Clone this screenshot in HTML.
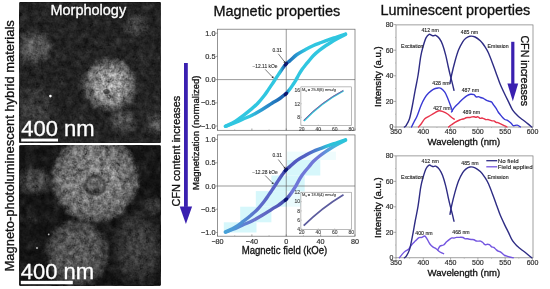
<!DOCTYPE html>
<html><head><meta charset="utf-8"><style>
html,body{margin:0;padding:0;background:#fff;}
body{width:550px;height:289px;position:relative;overflow:hidden;font-family:'Liberation Sans',sans-serif;}
svg{will-change:transform;}
</style></head><body>
<svg width="550" height="289" viewBox="0 0 550 289" style="position:absolute;left:0;top:0;font-family:'Liberation Sans',sans-serif">
<defs>
 <clipPath id="clipTop"><rect x="19.5" y="2.3" width="141" height="140.5"/></clipPath>
 <clipPath id="clipBot"><rect x="19.5" y="145.5" width="141" height="140"/></clipPath>
 <filter id="speck" x="0" y="0" width="100%" height="100%" color-interpolation-filters="sRGB">
  <feTurbulence type="fractalNoise" baseFrequency="0.6" numOctaves="1" seed="7" result="t1"/>
  <feTurbulence type="fractalNoise" baseFrequency="0.18" numOctaves="2" seed="3" result="t2"/>
  <feComposite in="t1" in2="t2" operator="arithmetic" k1="0" k2="0.45" k3="0.75" k4="-0.1" result="t"/>
  <feGaussianBlur in="t" stdDeviation="0.5" result="tb"/>
  <feColorMatrix in="tb" type="matrix" values="1 0 0 0 0  1 0 0 0 0  1 0 0 0 0  0 0 0 0 1" result="n"/>
  <feComposite in="SourceGraphic" in2="n" operator="arithmetic" k1="1.4" k2="0.3" k3="0" k4="0"/>
 </filter>
 <filter id="soft" x="-30%" y="-30%" width="160%" height="160%"><feGaussianBlur stdDeviation="1.2"/></filter>
 <filter id="fuzz" x="-10%" y="-10%" width="120%" height="120%">
  <feTurbulence type="fractalNoise" baseFrequency="0.12" numOctaves="2" seed="4" result="d"/>
  <feDisplacementMap in="SourceGraphic" in2="d" scale="6" xChannelSelector="R" yChannelSelector="G"/>
 </filter>
 <filter id="mottle" x="0" y="0" width="100%" height="100%" color-interpolation-filters="sRGB">
  <feTurbulence type="fractalNoise" baseFrequency="0.08" numOctaves="2" seed="11"/>
  <feColorMatrix type="matrix" values="0 0 0 0 0.35  0 0 0 0 0.35  0 0 0 0 0.35  1.6 0 0 0 -0.7"/>
 </filter>
 <radialGradient id="bgTop" cx="0.45" cy="0.5" r="0.7"><stop offset="0" stop-color="#3a3a3a" stop-opacity="0.6"/><stop offset="1" stop-color="#222" stop-opacity="0.6"/></radialGradient>
 <radialGradient id="bgBot" cx="0.8" cy="0.75" r="0.6"><stop offset="0" stop-color="#3c3c3c" stop-opacity="0.8"/><stop offset="1" stop-color="#1e1e1e" stop-opacity="0.3"/></radialGradient>
 <radialGradient id="gBlobA"><stop offset="0" stop-color="#767676"/><stop offset="0.5" stop-color="#606060" stop-opacity="0.92"/><stop offset="0.8" stop-color="#484848" stop-opacity="0.5"/><stop offset="1" stop-color="#333" stop-opacity="0"/></radialGradient>
 <radialGradient id="gBlobB"><stop offset="0" stop-color="#545454"/><stop offset="0.6" stop-color="#444" stop-opacity="0.7"/><stop offset="1" stop-color="#333" stop-opacity="0"/></radialGradient>
 <radialGradient id="gBlobC"><stop offset="0" stop-color="#505050"/><stop offset="0.6" stop-color="#444" stop-opacity="0.75"/><stop offset="1" stop-color="#333" stop-opacity="0"/></radialGradient>
 <radialGradient id="gBig1" cx="0.5" cy="0.52" r="0.5"><stop offset="0" stop-color="#bcbcbc"/><stop offset="0.3" stop-color="#ababab"/><stop offset="0.6" stop-color="#919191"/><stop offset="0.82" stop-color="#666" stop-opacity="0.85"/><stop offset="1" stop-color="#333" stop-opacity="0"/></radialGradient>
 <radialGradient id="gSph1" cx="0.5" cy="0.5" r="0.5"><stop offset="0" stop-color="#929292"/><stop offset="0.5" stop-color="#8a8a8a"/><stop offset="0.75" stop-color="#7a7a7a"/><stop offset="0.9" stop-color="#5a5a5a"/><stop offset="1" stop-color="#2a2a2a" stop-opacity="0"/></radialGradient>
 <radialGradient id="gSph2" cx="0.5" cy="0.5" r="0.5"><stop offset="0" stop-color="#666"/><stop offset="0.65" stop-color="#5e5e5e"/><stop offset="0.85" stop-color="#4a4a4a" stop-opacity="0.8"/><stop offset="1" stop-color="#303030" stop-opacity="0"/></radialGradient>
 <linearGradient id="gUpTop" gradientUnits="userSpaceOnUse" x1="225" y1="0" x2="346" y2="0">
  <stop offset="0" stop-color="#30c6e0"/><stop offset="0.455" stop-color="#30c6e0"/><stop offset="0.49" stop-color="#1c5eae"/><stop offset="0.53" stop-color="#1e72ba"/><stop offset="0.6" stop-color="#2a9cd2"/><stop offset="0.67" stop-color="#30c6e0"/><stop offset="1" stop-color="#30c6e0"/>
 </linearGradient>
 <linearGradient id="gLoTop" gradientUnits="userSpaceOnUse" x1="225" y1="0" x2="346" y2="0">
  <stop offset="0" stop-color="#30c6e0"/><stop offset="0.2" stop-color="#30c6e0"/><stop offset="0.33" stop-color="#2c90cc"/><stop offset="0.45" stop-color="#1f6cb6"/><stop offset="0.5" stop-color="#1c5eae"/><stop offset="0.535" stop-color="#30c6e0"/><stop offset="1" stop-color="#30c6e0"/>
 </linearGradient>
 <linearGradient id="gUpBot" gradientUnits="userSpaceOnUse" x1="225" y1="0" x2="346" y2="0">
  <stop offset="0" stop-color="#48a2d8"/><stop offset="0.15" stop-color="#5290d4"/><stop offset="0.27" stop-color="#5e6cca"/><stop offset="0.45" stop-color="#5860c4"/><stop offset="0.5" stop-color="#3a42a4"/><stop offset="0.55" stop-color="#5058c0"/><stop offset="0.68" stop-color="#5462c4"/><stop offset="0.76" stop-color="#4a80ce"/><stop offset="0.85" stop-color="#2cc0d8"/><stop offset="1" stop-color="#2cc4da"/>
 </linearGradient>
 <linearGradient id="gLoBot" gradientUnits="userSpaceOnUse" x1="225" y1="0" x2="346" y2="0">
  <stop offset="0" stop-color="#48a2d8"/><stop offset="0.13" stop-color="#5a86d4"/><stop offset="0.25" stop-color="#6a72cc"/><stop offset="0.45" stop-color="#5058b8"/><stop offset="0.5" stop-color="#3a42a4"/><stop offset="0.55" stop-color="#7078d8"/><stop offset="0.78" stop-color="#7078d8"/><stop offset="0.9" stop-color="#48b4dc"/><stop offset="1" stop-color="#30c4da"/>
 </linearGradient>
</defs>
<rect width="550" height="289" fill="#fff"/>

<g clip-path="url(#clipTop)">
 <g filter="url(#speck)">
 <rect x="19.5" y="2.3" width="141" height="140.5" fill="#262626"/>
 <rect x="19.5" y="2.3" width="141" height="140.5" filter="url(#mottle)" opacity="0.45"/>
 <g filter="url(#fuzz)">
 <ellipse cx="34" cy="112" rx="26" ry="34" fill="url(#gBlobB)" opacity="0.85"/>
 <circle cx="35" cy="48" r="21" fill="url(#gBlobA)"/>
 <circle cx="136" cy="25" r="15" fill="url(#gBlobA)" opacity="0.6"/>
 <circle cx="123" cy="121" r="16" fill="url(#gBlobA)" opacity="0.8"/>
 <circle cx="156" cy="123" r="14" fill="url(#gBlobA)" opacity="0.8"/>
 <ellipse cx="110" cy="83.5" rx="31" ry="30" fill="url(#gBig1)"/>
 </g>
 <ellipse cx="106.5" cy="91.5" rx="3.2" ry="2.6" fill="#3a3a3a" opacity="0.75"/>
 <circle cx="110" cy="87.3" r="1.6" fill="#d0d0d0"/>
 </g>
 <circle cx="50.4" cy="96.1" r="1.3" fill="#fff"/>
</g>
<g clip-path="url(#clipBot)">
 <g filter="url(#speck)">
 <rect x="19.5" y="145.5" width="141" height="140" fill="#161616"/>
 <rect x="19.5" y="145.5" width="141" height="140" filter="url(#mottle)" opacity="0.5"/>
 <g filter="url(#fuzz)">
 <ellipse cx="35" cy="181" rx="22" ry="17" fill="url(#gBlobA)" opacity="0.75"/>
 <ellipse cx="138" cy="248" rx="30" ry="44" fill="url(#gBlobC)"/>
 <circle cx="153" cy="205" r="12" fill="url(#gBlobC)" opacity="0.8"/>
 <ellipse cx="77.5" cy="253" rx="34" ry="37" fill="url(#gSph2)"/>
 <circle cx="95" cy="178.5" r="46.5" fill="url(#gSph1)"/>
 </g>
 <ellipse cx="108" cy="180" rx="10" ry="14" fill="#a8a8a8" opacity="0.3" filter="url(#soft)"/>
 <ellipse cx="95" cy="185.5" rx="9.5" ry="9" fill="none" stroke="#2a2a2a" stroke-width="3.4" opacity="0.7" filter="url(#soft)"/>
 <ellipse cx="95" cy="186" rx="7" ry="6.5" fill="#505050" opacity="0.55" filter="url(#soft)"/>
 <ellipse cx="96" cy="191" rx="3.5" ry="2.2" fill="#333" opacity="0.45"/>
 <path d="M75,175 Q80,169 89,168.5" fill="none" stroke="#3a3a3a" stroke-width="2.2" opacity="0.45"/>
 </g>
 <circle cx="48.7" cy="234.4" r="0.9" fill="#bbb"/>
 <circle cx="37" cy="248" r="0.9" fill="#ccc"/>
</g>
<text x="88.3" y="15.4" font-size="14.5" text-anchor="middle" fill="#fff" stroke="#fff" stroke-width="0.32">Morphology</text>
<text x="21.2" y="135.6" font-size="22" fill="#fff" stroke="#fff" stroke-width="0.32">400 nm</text>
<rect x="21.2" y="138.6" width="36.8" height="2.9" fill="#fff"/>
<text x="20.8" y="278.6" font-size="22" fill="#fff" stroke="#fff" stroke-width="0.32">400 nm</text>
<rect x="20.8" y="280.8" width="52" height="3.4" fill="#fff"/>
<text transform="translate(13.6,271.5) rotate(-90)" font-size="12" fill="#111" textLength="251.3" lengthAdjust="spacingAndGlyphs" stroke="#111" stroke-width="0.32">Magneto-photoluminescent hybrid materials</text>

<text x="213.5" y="15.6" font-size="14.45" fill="#111" stroke="#111" stroke-width="0.32">Magnetic properties</text>
<text x="380.5" y="15.3" font-size="14.4" fill="#111" stroke="#111" stroke-width="0.32">Luminescent properties</text>
<rect x="184" y="63" width="3.8" height="143.9" fill="#3a20b0"/><polygon points="179.7,206.4 192.1,206.4 185.9,224" fill="#3a20b0"/><text transform="translate(180,206.5) rotate(-90)" font-size="10.9" fill="#111" stroke="#111" stroke-width="0.32">CFN content increases</text><text transform="translate(199,190) rotate(-90)" font-size="9.8" fill="#111" textLength="114.5" lengthAdjust="spacingAndGlyphs" stroke="#111" stroke-width="0.32">Magnetization (normalized)</text><rect x="223.8" y="222.3" width="32.7" height="10.2" fill="#d6f7fb"/><rect x="240.2" y="206.7" width="31.2" height="15.6" fill="#d6f7fb"/><rect x="255.8" y="191.1" width="31.2" height="15.6" fill="#d6f7fb"/><rect x="287" y="191.1" width="17.7" height="15.6" fill="#ebfbfd"/><rect x="271.4" y="175.5" width="33.3" height="15.6" fill="#d6f7fb"/><rect x="287" y="159.9" width="33.3" height="15.6" fill="#d6f7fb"/><rect x="287" y="151.6" width="48.9" height="8.3" fill="#effcfd"/><rect x="217.5" y="29.2" width="137.5" height="101.10000000000001" fill="none" stroke="#666" stroke-width="0.7"/>
<line x1="217.5" y1="79.6" x2="355.0" y2="79.6" stroke="#555" stroke-width="0.6"/>
<line x1="286.25" y1="29.2" x2="286.25" y2="130.3" stroke="#555" stroke-width="0.6"/>
<line x1="216.0" y1="33.2" x2="217.5" y2="33.2" stroke="#666" stroke-width="0.6"/>
<text x="215.5" y="35.8" font-size="7.4" text-anchor="end" fill="#333" stroke="#333" stroke-width="0.2">1.0</text>
<line x1="216.0" y1="56.4" x2="217.5" y2="56.4" stroke="#666" stroke-width="0.6"/>
<text x="215.5" y="59" font-size="7.4" text-anchor="end" fill="#333" stroke="#333" stroke-width="0.2">0.5</text>
<line x1="216.0" y1="79.6" x2="217.5" y2="79.6" stroke="#666" stroke-width="0.6"/>
<text x="215.5" y="82.2" font-size="7.4" text-anchor="end" fill="#333" stroke="#333" stroke-width="0.2">0.0</text>
<line x1="216.0" y1="102.8" x2="217.5" y2="102.8" stroke="#666" stroke-width="0.6"/>
<text x="215.5" y="105.4" font-size="7.4" text-anchor="end" fill="#333" stroke="#333" stroke-width="0.2">−0.5</text>
<line x1="216.0" y1="126" x2="217.5" y2="126" stroke="#666" stroke-width="0.6"/>
<text x="215.5" y="128.6" font-size="7.4" text-anchor="end" fill="#333" stroke="#333" stroke-width="0.2">−1.0</text>
<line x1="234.71" y1="130.3" x2="234.71" y2="129.3" stroke="#888" stroke-width="0.5"/>
<line x1="269.07" y1="130.3" x2="269.07" y2="129.3" stroke="#888" stroke-width="0.5"/>
<line x1="303.43" y1="130.3" x2="303.43" y2="129.3" stroke="#888" stroke-width="0.5"/>
<line x1="337.79" y1="130.3" x2="337.79" y2="129.3" stroke="#888" stroke-width="0.5"/>
<line x1="217.53" y1="130.3" x2="217.53" y2="128.5" stroke="#666" stroke-width="0.6"/>
<line x1="251.89" y1="130.3" x2="251.89" y2="128.5" stroke="#666" stroke-width="0.6"/>
<line x1="286.25" y1="130.3" x2="286.25" y2="128.5" stroke="#666" stroke-width="0.6"/>
<line x1="320.61" y1="130.3" x2="320.61" y2="128.5" stroke="#666" stroke-width="0.6"/>
<line x1="354.97" y1="130.3" x2="354.97" y2="128.5" stroke="#666" stroke-width="0.6"/><rect x="217.5" y="134.9" width="137.5" height="101.29999999999998" fill="none" stroke="#666" stroke-width="0.7"/>
<line x1="217.5" y1="186" x2="355.0" y2="186" stroke="#555" stroke-width="0.6"/>
<line x1="286.25" y1="134.9" x2="286.25" y2="236.2" stroke="#555" stroke-width="0.6"/>
<line x1="216.0" y1="139.5" x2="217.5" y2="139.5" stroke="#666" stroke-width="0.6"/>
<text x="215.5" y="142.1" font-size="7.4" text-anchor="end" fill="#333" stroke="#333" stroke-width="0.2">1.0</text>
<line x1="216.0" y1="162.75" x2="217.5" y2="162.75" stroke="#666" stroke-width="0.6"/>
<text x="215.5" y="165.35" font-size="7.4" text-anchor="end" fill="#333" stroke="#333" stroke-width="0.2">0.5</text>
<line x1="216.0" y1="186" x2="217.5" y2="186" stroke="#666" stroke-width="0.6"/>
<text x="215.5" y="188.6" font-size="7.4" text-anchor="end" fill="#333" stroke="#333" stroke-width="0.2">0.0</text>
<line x1="216.0" y1="209.25" x2="217.5" y2="209.25" stroke="#666" stroke-width="0.6"/>
<text x="215.5" y="211.85" font-size="7.4" text-anchor="end" fill="#333" stroke="#333" stroke-width="0.2">−0.5</text>
<line x1="216.0" y1="232.5" x2="217.5" y2="232.5" stroke="#666" stroke-width="0.6"/>
<text x="215.5" y="235.1" font-size="7.4" text-anchor="end" fill="#333" stroke="#333" stroke-width="0.2">−1.0</text>
<line x1="234.71" y1="236.2" x2="234.71" y2="235.2" stroke="#888" stroke-width="0.5"/>
<line x1="269.07" y1="236.2" x2="269.07" y2="235.2" stroke="#888" stroke-width="0.5"/>
<line x1="303.43" y1="236.2" x2="303.43" y2="235.2" stroke="#888" stroke-width="0.5"/>
<line x1="337.79" y1="236.2" x2="337.79" y2="235.2" stroke="#888" stroke-width="0.5"/>
<line x1="217.53" y1="236.2" x2="217.53" y2="234.39999999999998" stroke="#666" stroke-width="0.6"/>
<line x1="251.89" y1="236.2" x2="251.89" y2="234.39999999999998" stroke="#666" stroke-width="0.6"/>
<line x1="286.25" y1="236.2" x2="286.25" y2="234.39999999999998" stroke="#666" stroke-width="0.6"/>
<line x1="320.61" y1="236.2" x2="320.61" y2="234.39999999999998" stroke="#666" stroke-width="0.6"/>
<line x1="354.97" y1="236.2" x2="354.97" y2="234.39999999999998" stroke="#666" stroke-width="0.6"/><path d="M225.5,126.3 C226.77,125.83 230.22,124.68 233.1,123.5 C235.98,122.32 239.57,120.62 242.8,119.2 C246.03,117.78 249.27,116.62 252.5,115 C255.73,113.38 258.95,111.45 262.2,109.5 C265.45,107.55 269.32,104.97 272,103.3 C274.68,101.63 276.55,100.65 278.3,99.5 C280.05,98.35 281.23,97.37 282.5,96.4 C283.77,95.43 284.75,94.8 285.9,93.7 C287.05,92.6 288.25,91.27 289.4,89.8 C290.55,88.33 291.77,86.43 292.8,84.9 C293.83,83.37 294.63,82.25 295.6,80.6 C296.57,78.95 297.53,76.85 298.6,75 C299.67,73.15 300.85,71.17 302,69.5 C303.15,67.83 304.38,66.38 305.5,65 C306.62,63.62 307.37,62.78 308.7,61.2 C310.03,59.62 311.68,57.33 313.5,55.5 C315.32,53.67 317.52,51.87 319.6,50.2 C321.68,48.53 323.93,46.92 326,45.5 C328.07,44.08 329.83,42.98 332,41.7 C334.17,40.42 336.75,39.02 339,37.8 C341.25,36.58 344.42,34.97 345.5,34.4" fill="none" stroke="url(#gLoTop)" stroke-width="3.4" stroke-linecap="round"/><path d="M225.5,126.3 C227.17,125.45 232.55,122.98 235.5,121.2 C238.45,119.42 240.62,117.57 243.2,115.6 C245.78,113.63 248.57,111.47 251,109.4 C253.43,107.33 255.58,105.52 257.8,103.2 C260.02,100.88 262.53,97.77 264.3,95.5 C266.07,93.23 267.15,91.42 268.4,89.6 C269.65,87.78 270.7,86.23 271.8,84.6 C272.9,82.97 273.9,81.47 275,79.8 C276.1,78.13 277.18,76.43 278.4,74.6 C279.62,72.77 281.05,70.53 282.3,68.8 C283.55,67.07 284.62,65.57 285.9,64.2 C287.18,62.83 288.15,62.22 290,60.6 C291.85,58.98 294.4,56.35 297,54.5 C299.6,52.65 302.93,50.97 305.6,49.5 C308.27,48.03 310.4,46.87 313,45.7 C315.6,44.53 318.53,43.52 321.2,42.5 C323.87,41.48 326.42,40.52 329,39.6 C331.58,38.68 333.95,37.93 336.7,37 C339.45,36.07 344.03,34.5 345.5,34" fill="none" stroke="url(#gUpTop)" stroke-width="3.4" stroke-linecap="round"/><ellipse cx="285.9" cy="64.2" rx="2.6" ry="1.75" fill="#0c1670" transform="rotate(-45 285.9 64.2)"/><ellipse cx="285.9" cy="93.9" rx="2.6" ry="1.75" fill="#0c1670" transform="rotate(-40 285.9 93.9)"/><path d="M225.5,232.1 C226.77,231.63 230.22,230.48 233.1,229.3 C235.98,228.12 239.57,226.42 242.8,225 C246.03,223.58 249.27,222.42 252.5,220.8 C255.73,219.18 258.95,217.25 262.2,215.3 C265.45,213.35 269.32,210.77 272,209.1 C274.68,207.43 276.55,206.45 278.3,205.3 C280.05,204.15 281.23,203.17 282.5,202.2 C283.77,201.23 284.75,200.6 285.9,199.5 C287.05,198.4 288.25,197.07 289.4,195.6 C290.55,194.13 291.77,192.23 292.8,190.7 C293.83,189.17 294.63,188.05 295.6,186.4 C296.57,184.75 297.53,182.65 298.6,180.8 C299.67,178.95 300.85,176.97 302,175.3 C303.15,173.63 304.38,172.18 305.5,170.8 C306.62,169.42 307.37,168.58 308.7,167 C310.03,165.42 311.68,163.13 313.5,161.3 C315.32,159.47 317.52,157.67 319.6,156 C321.68,154.33 323.93,152.72 326,151.3 C328.07,149.88 329.83,148.78 332,147.5 C334.17,146.22 336.75,144.82 339,143.6 C341.25,142.38 344.42,140.77 345.5,140.2" fill="none" stroke="url(#gLoBot)" stroke-width="3.4" stroke-linecap="round"/><path d="M225.5,232.1 C227.17,231.25 232.55,228.78 235.5,227 C238.45,225.22 240.62,223.37 243.2,221.4 C245.78,219.43 248.57,217.27 251,215.2 C253.43,213.13 255.58,211.32 257.8,209 C260.02,206.68 262.53,203.57 264.3,201.3 C266.07,199.03 267.15,197.22 268.4,195.4 C269.65,193.58 270.7,192.03 271.8,190.4 C272.9,188.77 273.9,187.27 275,185.6 C276.1,183.93 277.18,182.23 278.4,180.4 C279.62,178.57 281.05,176.33 282.3,174.6 C283.55,172.87 284.62,171.37 285.9,170 C287.18,168.63 288.15,168.02 290,166.4 C291.85,164.78 294.4,162.15 297,160.3 C299.6,158.45 302.93,156.77 305.6,155.3 C308.27,153.83 310.4,152.67 313,151.5 C315.6,150.33 318.53,149.32 321.2,148.3 C323.87,147.28 326.42,146.32 329,145.4 C331.58,144.48 333.95,143.73 336.7,142.8 C339.45,141.87 344.03,140.3 345.5,139.8" fill="none" stroke="url(#gUpBot)" stroke-width="3.4" stroke-linecap="round"/><ellipse cx="285.9" cy="170" rx="2.6" ry="1.75" fill="#0c1670" transform="rotate(-45 285.9 170)"/><ellipse cx="285.9" cy="199.7" rx="2.6" ry="1.75" fill="#0c1670" transform="rotate(-40 285.9 199.7)"/><text x="277.2" y="51.7" font-size="4.9" text-anchor="middle" fill="#333" stroke="#333" stroke-width="0.12">0.31</text><line x1="278.3" y1="53.8" x2="284.25" y2="61.46" stroke="#222" stroke-width="0.6"/><polygon points="283.38,62.14 285.12,60.79 285.6,63.2" fill="#222"/><text x="265" y="67.7" font-size="4.9" text-anchor="middle" fill="#333" stroke="#333" stroke-width="0.12">−12.11 kOe</text><line x1="265.2" y1="69.4" x2="272.28" y2="76.81" stroke="#222" stroke-width="0.6"/><polygon points="271.48,77.57 273.08,76.05 273.8,78.4" fill="#222"/><text x="277.2" y="157.3" font-size="4.9" text-anchor="middle" fill="#333" stroke="#333" stroke-width="0.12">0.31</text><line x1="278.3" y1="159.5" x2="284.26" y2="167.26" stroke="#222" stroke-width="0.6"/><polygon points="283.39,167.93 285.13,166.59 285.6,169" fill="#222"/><text x="265" y="174.1" font-size="4.9" text-anchor="middle" fill="#333" stroke="#333" stroke-width="0.12">−12.28 kOe</text><line x1="265.2" y1="175.5" x2="272.26" y2="182.73" stroke="#222" stroke-width="0.6"/><polygon points="271.48,183.5 273.05,181.96 273.8,184.3" fill="#222"/><rect x="300.9" y="86.9" width="50.700000000000045" height="38.8" fill="#fff" stroke="#777" stroke-width="0.5"/>
<text x="300.09999999999997" y="92" font-size="5" text-anchor="end" fill="#444" stroke="#444" stroke-width="0.12">16</text>
<line x1="300.9" y1="90.2" x2="301.9" y2="90.2" stroke="#888" stroke-width="0.4"/>
<text x="300.09999999999997" y="105.6" font-size="5" text-anchor="end" fill="#444" stroke="#444" stroke-width="0.12">12</text>
<line x1="300.9" y1="103.8" x2="301.9" y2="103.8" stroke="#888" stroke-width="0.4"/>
<text x="300.09999999999997" y="119.1" font-size="5" text-anchor="end" fill="#444" stroke="#444" stroke-width="0.12">8</text>
<line x1="300.9" y1="117.3" x2="301.9" y2="117.3" stroke="#888" stroke-width="0.4"/>
<text x="301.8" y="130.7" font-size="5" text-anchor="middle" fill="#444" stroke="#444" stroke-width="0.12">20</text>
<line x1="301.8" y1="125.7" x2="301.8" y2="124.7" stroke="#888" stroke-width="0.4"/>
<text x="318.3" y="130.7" font-size="5" text-anchor="middle" fill="#444" stroke="#444" stroke-width="0.12">40</text>
<line x1="318.3" y1="125.7" x2="318.3" y2="124.7" stroke="#888" stroke-width="0.4"/>
<text x="334.7" y="130.7" font-size="5" text-anchor="middle" fill="#444" stroke="#444" stroke-width="0.12">60</text>
<line x1="334.7" y1="125.7" x2="334.7" y2="124.7" stroke="#888" stroke-width="0.4"/>
<text x="351.2" y="130.7" font-size="5" text-anchor="middle" fill="#444" stroke="#444" stroke-width="0.12">80</text>
<line x1="351.2" y1="125.7" x2="351.2" y2="124.7" stroke="#888" stroke-width="0.4"/>
<text x="302.09999999999997" y="91.0" font-size="4.3" fill="#444" textLength="34" lengthAdjust="spacingAndGlyphs" stroke="#444" stroke-width="0.12">M<tspan font-size="2.6" dy="0.8">s</tspan><tspan dy="-0.8"> = 25.8(6) emu/g</tspan></text>
<path d="M303.9,120.9 Q321.5,102.5 343.5,90.8" fill="none" stroke="#30c8d8" stroke-width="1.7"/>
<path d="M303.6,120.3 Q321.1,102 343.3,90.4" fill="none" stroke="#8a4a98" stroke-width="1.0" opacity="0.85"/><rect x="300.9" y="192.2" width="50.700000000000045" height="37.20000000000002" fill="#fff" stroke="#777" stroke-width="0.5"/>
<text x="300.09999999999997" y="194.4" font-size="5" text-anchor="end" fill="#444" stroke="#444" stroke-width="0.12">12</text>
<line x1="300.9" y1="192.6" x2="301.9" y2="192.6" stroke="#888" stroke-width="0.4"/>
<text x="300.09999999999997" y="203.4" font-size="5" text-anchor="end" fill="#444" stroke="#444" stroke-width="0.12">10</text>
<line x1="300.9" y1="201.6" x2="301.9" y2="201.6" stroke="#888" stroke-width="0.4"/>
<text x="300.09999999999997" y="212.7" font-size="5" text-anchor="end" fill="#444" stroke="#444" stroke-width="0.12">8</text>
<line x1="300.9" y1="210.9" x2="301.9" y2="210.9" stroke="#888" stroke-width="0.4"/>
<text x="300.09999999999997" y="222" font-size="5" text-anchor="end" fill="#444" stroke="#444" stroke-width="0.12">6</text>
<line x1="300.9" y1="220.2" x2="301.9" y2="220.2" stroke="#888" stroke-width="0.4"/>
<text x="300.09999999999997" y="231.2" font-size="5" text-anchor="end" fill="#444" stroke="#444" stroke-width="0.12">4</text>
<line x1="300.9" y1="229.4" x2="301.9" y2="229.4" stroke="#888" stroke-width="0.4"/>
<text x="301.8" y="234.4" font-size="5" text-anchor="middle" fill="#444" stroke="#444" stroke-width="0.12">20</text>
<line x1="301.8" y1="229.4" x2="301.8" y2="228.4" stroke="#888" stroke-width="0.4"/>
<text x="318.3" y="234.4" font-size="5" text-anchor="middle" fill="#444" stroke="#444" stroke-width="0.12">40</text>
<line x1="318.3" y1="229.4" x2="318.3" y2="228.4" stroke="#888" stroke-width="0.4"/>
<text x="334.7" y="234.4" font-size="5" text-anchor="middle" fill="#444" stroke="#444" stroke-width="0.12">60</text>
<line x1="334.7" y1="229.4" x2="334.7" y2="228.4" stroke="#888" stroke-width="0.4"/>
<text x="351.2" y="234.4" font-size="5" text-anchor="middle" fill="#444" stroke="#444" stroke-width="0.12">80</text>
<line x1="351.2" y1="229.4" x2="351.2" y2="228.4" stroke="#888" stroke-width="0.4"/>
<text x="302.09999999999997" y="196.29999999999998" font-size="4.3" fill="#444" textLength="34" lengthAdjust="spacingAndGlyphs" stroke="#444" stroke-width="0.12">M<tspan font-size="2.6" dy="0.8">s</tspan><tspan dy="-0.8"> = 18.8(4) emu/g</tspan></text>
<path d="M303.7,225.7 Q322,207.5 343.5,194.7" fill="none" stroke="#5c5c9e" stroke-width="1.8"/><text x="217.53" y="244.3" font-size="7.2" text-anchor="middle" fill="#333" stroke="#333" stroke-width="0.2">−80</text><text x="251.89" y="244.3" font-size="7.2" text-anchor="middle" fill="#333" stroke="#333" stroke-width="0.2">−40</text><text x="286.25" y="244.3" font-size="7.2" text-anchor="middle" fill="#333" stroke="#333" stroke-width="0.2">0</text><text x="320.61" y="244.3" font-size="7.2" text-anchor="middle" fill="#333" stroke="#333" stroke-width="0.2">40</text><text x="354.97" y="244.3" font-size="7.2" text-anchor="middle" fill="#333" stroke="#333" stroke-width="0.2">80</text><text x="241.7" y="254.1" font-size="10" fill="#111" textLength="85.6" lengthAdjust="spacingAndGlyphs" stroke="#111" stroke-width="0.32">Magnetic field (kOe)</text><rect x="396.0" y="24.9" width="137.0" height="102.1" fill="none" stroke="#777" stroke-width="0.7"/>
<line x1="394.0" y1="127" x2="396.0" y2="127" stroke="#777" stroke-width="0.6"/>
<text x="393.5" y="129.4" font-size="7" text-anchor="end" fill="#333" stroke="#333" stroke-width="0.2">0</text>
<line x1="394.0" y1="101.4" x2="396.0" y2="101.4" stroke="#777" stroke-width="0.6"/>
<text x="393.5" y="103.8" font-size="7" text-anchor="end" fill="#333" stroke="#333" stroke-width="0.2">20</text>
<line x1="394.0" y1="75.8" x2="396.0" y2="75.8" stroke="#777" stroke-width="0.6"/>
<text x="393.5" y="78.2" font-size="7" text-anchor="end" fill="#333" stroke="#333" stroke-width="0.2">40</text>
<line x1="394.0" y1="50.2" x2="396.0" y2="50.2" stroke="#777" stroke-width="0.6"/>
<text x="393.5" y="52.6" font-size="7" text-anchor="end" fill="#333" stroke="#333" stroke-width="0.2">60</text>
<line x1="394.0" y1="24.6" x2="396.0" y2="24.6" stroke="#777" stroke-width="0.6"/>
<text x="393.5" y="27" font-size="7" text-anchor="end" fill="#333" stroke="#333" stroke-width="0.2">80</text>
<line x1="395.0" y1="114.2" x2="396.0" y2="114.2" stroke="#999" stroke-width="0.5"/>
<line x1="395.0" y1="88.6" x2="396.0" y2="88.6" stroke="#999" stroke-width="0.5"/>
<line x1="395.0" y1="63" x2="396.0" y2="63" stroke="#999" stroke-width="0.5"/>
<line x1="395.0" y1="37.4" x2="396.0" y2="37.4" stroke="#999" stroke-width="0.5"/>
<line x1="396" y1="127.0" x2="396" y2="129.0" stroke="#777" stroke-width="0.6"/>
<text x="396" y="134.3" font-size="7" text-anchor="middle" fill="#333" stroke="#333" stroke-width="0.2">350</text>
<line x1="423.3" y1="127.0" x2="423.3" y2="129.0" stroke="#777" stroke-width="0.6"/>
<text x="423.3" y="134.3" font-size="7" text-anchor="middle" fill="#333" stroke="#333" stroke-width="0.2">400</text>
<line x1="450.6" y1="127.0" x2="450.6" y2="129.0" stroke="#777" stroke-width="0.6"/>
<text x="450.6" y="134.3" font-size="7" text-anchor="middle" fill="#333" stroke="#333" stroke-width="0.2">450</text>
<line x1="477.9" y1="127.0" x2="477.9" y2="129.0" stroke="#777" stroke-width="0.6"/>
<text x="477.9" y="134.3" font-size="7" text-anchor="middle" fill="#333" stroke="#333" stroke-width="0.2">500</text>
<line x1="505.2" y1="127.0" x2="505.2" y2="129.0" stroke="#777" stroke-width="0.6"/>
<text x="505.2" y="134.3" font-size="7" text-anchor="middle" fill="#333" stroke="#333" stroke-width="0.2">550</text>
<line x1="532.5" y1="127.0" x2="532.5" y2="129.0" stroke="#777" stroke-width="0.6"/>
<text x="532.5" y="134.3" font-size="7" text-anchor="middle" fill="#333" stroke="#333" stroke-width="0.2">600</text>
<line x1="409.65" y1="127.0" x2="409.65" y2="128.0" stroke="#999" stroke-width="0.5"/>
<line x1="436.95" y1="127.0" x2="436.95" y2="128.0" stroke="#999" stroke-width="0.5"/>
<line x1="464.25" y1="127.0" x2="464.25" y2="128.0" stroke="#999" stroke-width="0.5"/>
<line x1="491.55" y1="127.0" x2="491.55" y2="128.0" stroke="#999" stroke-width="0.5"/>
<line x1="518.85" y1="127.0" x2="518.85" y2="128.0" stroke="#999" stroke-width="0.5"/><rect x="396.0" y="155.9" width="137.0" height="101.9" fill="none" stroke="#777" stroke-width="0.7"/>
<line x1="394.0" y1="257.8" x2="396.0" y2="257.8" stroke="#777" stroke-width="0.6"/>
<text x="393.5" y="260.2" font-size="7" text-anchor="end" fill="#333" stroke="#333" stroke-width="0.2">0</text>
<line x1="394.0" y1="232.32" x2="396.0" y2="232.32" stroke="#777" stroke-width="0.6"/>
<text x="393.5" y="234.72" font-size="7" text-anchor="end" fill="#333" stroke="#333" stroke-width="0.2">20</text>
<line x1="394.0" y1="206.84" x2="396.0" y2="206.84" stroke="#777" stroke-width="0.6"/>
<text x="393.5" y="209.24" font-size="7" text-anchor="end" fill="#333" stroke="#333" stroke-width="0.2">40</text>
<line x1="394.0" y1="181.36" x2="396.0" y2="181.36" stroke="#777" stroke-width="0.6"/>
<text x="393.5" y="183.76" font-size="7" text-anchor="end" fill="#333" stroke="#333" stroke-width="0.2">60</text>
<line x1="394.0" y1="155.88" x2="396.0" y2="155.88" stroke="#777" stroke-width="0.6"/>
<text x="393.5" y="158.28" font-size="7" text-anchor="end" fill="#333" stroke="#333" stroke-width="0.2">80</text>
<line x1="395.0" y1="245.06" x2="396.0" y2="245.06" stroke="#999" stroke-width="0.5"/>
<line x1="395.0" y1="219.58" x2="396.0" y2="219.58" stroke="#999" stroke-width="0.5"/>
<line x1="395.0" y1="194.1" x2="396.0" y2="194.1" stroke="#999" stroke-width="0.5"/>
<line x1="395.0" y1="168.62" x2="396.0" y2="168.62" stroke="#999" stroke-width="0.5"/>
<line x1="396" y1="257.8" x2="396" y2="259.8" stroke="#777" stroke-width="0.6"/>
<text x="396" y="265.1" font-size="7" text-anchor="middle" fill="#333" stroke="#333" stroke-width="0.2">350</text>
<line x1="423.3" y1="257.8" x2="423.3" y2="259.8" stroke="#777" stroke-width="0.6"/>
<text x="423.3" y="265.1" font-size="7" text-anchor="middle" fill="#333" stroke="#333" stroke-width="0.2">400</text>
<line x1="450.6" y1="257.8" x2="450.6" y2="259.8" stroke="#777" stroke-width="0.6"/>
<text x="450.6" y="265.1" font-size="7" text-anchor="middle" fill="#333" stroke="#333" stroke-width="0.2">450</text>
<line x1="477.9" y1="257.8" x2="477.9" y2="259.8" stroke="#777" stroke-width="0.6"/>
<text x="477.9" y="265.1" font-size="7" text-anchor="middle" fill="#333" stroke="#333" stroke-width="0.2">500</text>
<line x1="505.2" y1="257.8" x2="505.2" y2="259.8" stroke="#777" stroke-width="0.6"/>
<text x="505.2" y="265.1" font-size="7" text-anchor="middle" fill="#333" stroke="#333" stroke-width="0.2">550</text>
<line x1="532.5" y1="257.8" x2="532.5" y2="259.8" stroke="#777" stroke-width="0.6"/>
<text x="532.5" y="265.1" font-size="7" text-anchor="middle" fill="#333" stroke="#333" stroke-width="0.2">600</text>
<line x1="409.65" y1="257.8" x2="409.65" y2="258.8" stroke="#999" stroke-width="0.5"/>
<line x1="436.95" y1="257.8" x2="436.95" y2="258.8" stroke="#999" stroke-width="0.5"/>
<line x1="464.25" y1="257.8" x2="464.25" y2="258.8" stroke="#999" stroke-width="0.5"/>
<line x1="491.55" y1="257.8" x2="491.55" y2="258.8" stroke="#999" stroke-width="0.5"/>
<line x1="518.85" y1="257.8" x2="518.85" y2="258.8" stroke="#999" stroke-width="0.5"/><text transform="translate(381.3,107) rotate(-90)" font-size="9.6" fill="#111" stroke="#111" stroke-width="0.32">Intensity (a.u.)</text><text transform="translate(381.3,238) rotate(-90)" font-size="9.6" fill="#111" stroke="#111" stroke-width="0.32">Intensity (a.u.)</text><text x="427.6" y="144.6" font-size="9.8" fill="#111" textLength="72.6" lengthAdjust="spacingAndGlyphs" stroke="#111" stroke-width="0.32">Wavelength (nm)</text><text x="427.6" y="275.6" font-size="9.8" fill="#111" textLength="72.6" lengthAdjust="spacingAndGlyphs" stroke="#111" stroke-width="0.32">Wavelength (nm)</text><path d="M418.5,127 C419,126.42 420.45,124.87 421.5,123.5 C422.55,122.13 423.47,120.05 424.8,118.8 C426.13,117.55 427.92,116.95 429.5,116 C431.08,115.05 432.72,113.97 434.3,113.1 C435.88,112.23 437.57,111.05 439,110.8 C440.43,110.55 441.47,111.07 442.9,111.6 C444.33,112.13 446.18,113.05 447.6,114 C449.02,114.95 450.28,116.43 451.4,117.3 C452.52,118.17 453.82,118.88 454.3,119.2" fill="none" stroke="#e8344c" stroke-width="1.4" stroke-linejoin="round" stroke-linecap="round"/><path d="M448.6,127 C449.08,126.63 450.43,125.58 451.5,124.8 C452.57,124.02 453.63,123.1 455,122.3 C456.37,121.5 458.53,120.51 459.7,120 C460.87,119.49 461.28,119.47 462,119.26 C462.72,119.05 463.33,119.01 464,118.75 C464.67,118.5 465.33,117.95 466,117.75 C466.67,117.55 467.33,117.59 468,117.55 C468.67,117.5 469.33,117.59 470,117.48 C470.67,117.37 471.33,117.03 472,116.9 C472.67,116.78 473.33,116.69 474,116.75 C474.67,116.8 475.33,117.24 476,117.25 C476.67,117.25 477.33,116.61 478,116.8 C478.67,116.99 479.33,118.15 480,118.36 C480.67,118.57 481.33,118 482,118.05 C482.67,118.11 483.33,118.44 484,118.7 C484.67,118.97 485.33,119.51 486,119.64 C486.67,119.77 487.33,119.38 488,119.48 C488.67,119.57 489.33,119.98 490,120.21 C490.67,120.44 491.33,120.75 492,120.88 C492.67,121 493.33,120.73 494,120.96 C494.67,121.2 495.33,122.02 496,122.3 C496.67,122.58 497.33,122.41 498,122.64 C498.67,122.86 499.13,123.23 500,123.64 C500.87,124.05 502.28,124.67 503.2,125.1 C504.12,125.53 504.87,125.88 505.5,126.2 C506.13,126.52 506.75,126.87 507,127" fill="none" stroke="#e8344c" stroke-width="1.4" stroke-linejoin="round" stroke-linecap="round"/><path d="M411.5,127 C411.92,126.17 413.07,123.83 414,122 C414.93,120.17 415.93,118.75 417.1,116 C418.27,113.25 419.72,108.52 421,105.5 C422.28,102.48 423.53,99.97 424.8,97.9 C426.07,95.83 427.18,94.53 428.6,93.1 C430.02,91.67 431.72,90.15 433.3,89.3 C434.88,88.45 436.82,88.17 438.1,88 C439.38,87.83 439.88,87.62 441,88.3 C442.12,88.98 443.7,90.5 444.8,92.1 C445.9,93.7 446.65,95.67 447.6,97.9 C448.55,100.13 449.7,103.32 450.5,105.5 C451.3,107.68 452.08,110.08 452.4,111" fill="none" stroke="#3838d4" stroke-width="1.4" stroke-linejoin="round" stroke-linecap="round"/><path d="M451.5,112 C451.83,111.43 452.92,109.47 453.5,108.6 C454.08,107.73 454.1,107.75 455,106.8 C455.9,105.85 457.6,104.2 458.9,102.9 C460.2,101.6 461.5,100.17 462.8,99 C464.1,97.83 465.4,96.68 466.7,95.9 C468,95.12 469.38,94.49 470.6,94.3 C471.82,94.11 473.07,94.29 474,94.74 C474.93,95.18 475.47,96.66 476.2,96.97 C476.93,97.28 477.67,96.52 478.4,96.6 C479.13,96.68 479.87,97.22 480.6,97.48 C481.33,97.74 482.07,97.86 482.8,98.18 C483.53,98.5 484.27,98.99 485,99.4 C485.73,99.8 486.47,100.31 487.2,100.62 C487.93,100.94 488.67,101.05 489.4,101.29 C490.13,101.53 490.87,101.4 491.6,102.04 C492.33,102.69 493.07,104.14 493.8,105.17 C494.53,106.2 495.27,107.09 496,108.23 C496.73,109.37 497.47,110.91 498.2,112.01 C498.93,113.11 499.67,113.91 500.4,114.82 C501.13,115.73 501.87,116.7 502.6,117.48 C503.33,118.26 504.07,119.04 504.8,119.5 C505.53,119.95 506.27,119.83 507,120.19 C507.73,120.54 508.47,121.09 509.2,121.62 C509.93,122.16 510.72,122.73 511.4,123.41 C512.08,124.09 512.33,125.42 513.3,125.7 C514.27,125.98 516.03,124.9 517.2,125.1 C518.37,125.3 519.78,126.6 520.3,126.9" fill="none" stroke="#3838d4" stroke-width="1.4" stroke-linejoin="round" stroke-linecap="round"/><path d="M404.4,127 C404.72,126.72 405.45,126.67 406.3,125.3 C407.15,123.93 408.48,122.1 409.5,118.8 C410.52,115.5 411.45,110.27 412.4,105.5 C413.35,100.73 414.25,95.28 415.2,90.2 C416.15,85.12 417.17,80.68 418.1,75 C419.03,69.32 419.93,60.97 420.8,56.1 C421.67,51.23 422.43,48.83 423.3,45.8 C424.17,42.77 425.03,39.82 426,37.9 C426.97,35.98 428.25,34.78 429.1,34.3 C429.95,33.82 430.42,34.75 431.1,35 C431.78,35.25 432.43,35.73 433.2,35.8 C433.97,35.87 434.67,34.95 435.7,35.4 C436.73,35.85 438.25,36.95 439.4,38.5 C440.55,40.05 441.55,41.93 442.6,44.7 C443.65,47.47 444.77,51.47 445.7,55.1 C446.63,58.73 447.42,63.03 448.2,66.5 C448.98,69.97 449.7,73.05 450.4,75.9 C451.1,78.75 451.8,81.18 452.4,83.6 C453,86.02 453.73,89.27 454,90.4" fill="none" stroke="#2e2c84" stroke-width="1.4" stroke-linejoin="round" stroke-linecap="round"/><path d="M450,83.5 C450.27,82.08 450.77,78.7 451.6,75 C452.43,71.3 453.85,65.45 455,61.3 C456.15,57.15 457.22,53.35 458.5,50.1 C459.78,46.85 461.48,43.77 462.7,41.8 C463.92,39.83 464.6,39.23 465.8,38.3 C467,37.37 468.35,36.42 469.9,36.2 C471.45,35.98 473.37,36.23 475.1,37 C476.83,37.77 478.73,39.3 480.3,40.8 C481.87,42.3 483.12,43.93 484.5,46 C485.88,48.07 487.05,49.75 488.6,53.2 C490.15,56.65 492.4,62.98 493.8,66.7 C495.2,70.42 495.95,72.62 497,75.5 C498.05,78.38 498.8,80.87 500.1,84 C501.4,87.13 503.37,91.28 504.8,94.3 C506.23,97.32 507.42,99.5 508.7,102.1 C509.98,104.7 511.08,107.7 512.5,109.9 C513.92,112.1 515.63,113.75 517.2,115.3 C518.77,116.85 520.6,118.17 521.9,119.2 C523.2,120.23 523.88,120.63 525,121.5 C526.12,122.37 527.48,123.48 528.6,124.4 C529.72,125.32 531.18,126.57 531.7,127" fill="none" stroke="#2e2c84" stroke-width="1.4" stroke-linejoin="round" stroke-linecap="round"/><path d="M399.4,257.8 C399.88,257.18 401.33,255.2 402.3,254.1 C403.27,253 404.12,252.05 405.2,251.2 C406.28,250.35 407.72,250.08 408.8,249 C409.88,247.92 410.62,246.02 411.7,244.7 C412.78,243.38 414.08,242.27 415.3,241.1 C416.52,239.93 417.9,238.32 419,237.7 C420.1,237.08 420.93,237.68 421.9,237.4 C422.87,237.12 423.95,235.75 424.8,236 C425.65,236.25 426.15,237.57 427,238.9 C427.85,240.23 428.93,242.67 429.9,244 C430.87,245.33 431.72,246.07 432.8,246.9 C433.88,247.73 435.2,248.15 436.4,249 C437.6,249.85 438.8,251.22 440,252 C441.2,252.78 443,253.42 443.6,253.7" fill="none" stroke="#7456e0" stroke-width="1.4" stroke-linejoin="round" stroke-linecap="round"/><path d="M437.8,249.8 C438.17,249.18 439.03,246.9 440,246.1 C440.97,245.3 442.5,245.72 443.6,245 C444.7,244.28 445.5,242.82 446.6,241.8 C447.7,240.78 449.3,239.54 450.2,238.9 C451.1,238.26 451.33,238.07 452,237.93 C452.67,237.8 453.47,238.18 454.2,238.09 C454.93,238 455.67,237.49 456.4,237.37 C457.13,237.26 457.87,237.41 458.6,237.39 C459.33,237.37 460.07,237.24 460.8,237.26 C461.53,237.28 462.27,237.28 463,237.53 C463.73,237.79 464.47,238.61 465.2,238.8 C465.93,238.99 466.67,238.61 467.4,238.69 C468.13,238.76 468.87,239.11 469.6,239.25 C470.33,239.38 471.07,239.42 471.8,239.5 C472.53,239.58 473.27,239.49 474,239.75 C474.73,240 475.47,240.79 476.2,241.02 C476.93,241.25 477.67,241.11 478.4,241.12 C479.13,241.14 479.87,240.89 480.6,241.13 C481.33,241.36 482.07,241.95 482.8,242.55 C483.53,243.14 484.27,244.42 485,244.71 C485.73,245 486.47,244.29 487.2,244.28 C487.93,244.28 488.67,244.27 489.4,244.69 C490.13,245.11 490.87,246.36 491.6,246.82 C492.33,247.27 493.07,246.97 493.8,247.41 C494.53,247.86 495.27,248.83 496,249.47 C496.73,250.1 497.47,250.82 498.2,251.22 C498.93,251.61 499.67,251.4 500.4,251.82 C501.13,252.23 501.87,253.08 502.6,253.72 C503.33,254.36 504.37,255.37 504.8,255.67 C505.23,255.96 504.42,255.28 505.2,255.5 C505.98,255.72 508.17,256.63 509.5,257 C510.83,257.37 512.58,257.58 513.2,257.7" fill="none" stroke="#7456e0" stroke-width="1.4" stroke-linejoin="round" stroke-linecap="round"/><path d="M404.4,257.8 C404.72,257.52 405.45,257.47 406.3,256.1 C407.15,254.73 408.48,252.9 409.5,249.6 C410.52,246.3 411.45,241.07 412.4,236.3 C413.35,231.53 414.25,226.08 415.2,221 C416.15,215.92 417.17,211.48 418.1,205.8 C419.03,200.12 419.93,191.77 420.8,186.9 C421.67,182.03 422.43,179.63 423.3,176.6 C424.17,173.57 425.03,170.62 426,168.7 C426.97,166.78 428.25,165.58 429.1,165.1 C429.95,164.62 430.42,165.55 431.1,165.8 C431.78,166.05 432.43,166.53 433.2,166.6 C433.97,166.67 434.67,165.75 435.7,166.2 C436.73,166.65 438.25,167.75 439.4,169.3 C440.55,170.85 441.55,172.73 442.6,175.5 C443.65,178.27 444.77,182.27 445.7,185.9 C446.63,189.53 447.42,193.83 448.2,197.3 C448.98,200.77 449.7,203.85 450.4,206.7 C451.1,209.55 451.8,211.98 452.4,214.4 C453,216.82 453.73,220.07 454,221.2" fill="none" stroke="#2e2c84" stroke-width="1.4" stroke-linejoin="round" stroke-linecap="round"/><path d="M450,214.3 C450.27,212.88 450.77,209.5 451.6,205.8 C452.43,202.1 453.85,196.25 455,192.1 C456.15,187.95 457.22,184.15 458.5,180.9 C459.78,177.65 461.48,174.57 462.7,172.6 C463.92,170.63 464.6,170.03 465.8,169.1 C467,168.17 468.35,167.22 469.9,167 C471.45,166.78 473.37,167.03 475.1,167.8 C476.83,168.57 478.73,170.1 480.3,171.6 C481.87,173.1 483.12,174.73 484.5,176.8 C485.88,178.87 487.05,180.55 488.6,184 C490.15,187.45 492.4,193.78 493.8,197.5 C495.2,201.22 495.95,203.42 497,206.3 C498.05,209.18 498.8,211.67 500.1,214.8 C501.4,217.93 503.37,222.08 504.8,225.1 C506.23,228.12 507.42,230.3 508.7,232.9 C509.98,235.5 511.08,238.5 512.5,240.7 C513.92,242.9 515.63,244.55 517.2,246.1 C518.77,247.65 520.6,248.97 521.9,250 C523.2,251.03 523.88,251.43 525,252.3 C526.12,253.17 527.48,254.28 528.6,255.2 C529.72,256.12 531.18,257.37 531.7,257.8" fill="none" stroke="#2e2c84" stroke-width="1.4" stroke-linejoin="round" stroke-linecap="round"/><text x="430.1" y="31.8" font-size="5.2" text-anchor="middle" fill="#222" stroke="#222" stroke-width="0.12">412 nm</text><text x="469.5" y="33.6" font-size="5.2" text-anchor="middle" fill="#222" stroke="#222" stroke-width="0.12">485 nm</text><text x="441" y="85.4" font-size="5.2" text-anchor="middle" fill="#222" stroke="#222" stroke-width="0.12">428 nm</text><text x="470.4" y="92.2" font-size="5.2" text-anchor="middle" fill="#222" stroke="#222" stroke-width="0.12">487 nm</text><text x="441.9" y="109.6" font-size="5.2" text-anchor="middle" fill="#222" stroke="#222" stroke-width="0.12">427 nm</text><text x="471.4" y="114.4" font-size="5.2" text-anchor="middle" fill="#222" stroke="#222" stroke-width="0.12">489 nm</text><text x="401" y="47.6" font-size="5.2" text-anchor="start" fill="#222" stroke="#222" stroke-width="0.12">Excitation</text><text x="487.6" y="47.8" font-size="5.2" text-anchor="start" fill="#222" stroke="#222" stroke-width="0.12">Emission</text><text x="430.2" y="162.6" font-size="5.2" text-anchor="middle" fill="#222" stroke="#222" stroke-width="0.12">412 nm</text><text x="470" y="164.9" font-size="5.2" text-anchor="middle" fill="#222" stroke="#222" stroke-width="0.12">485 nm</text><text x="401" y="178.5" font-size="5.2" text-anchor="start" fill="#222" stroke="#222" stroke-width="0.12">Excitation</text><text x="487.5" y="178.8" font-size="5.2" text-anchor="start" fill="#222" stroke="#222" stroke-width="0.12">Emission</text><text x="424" y="234.6" font-size="5.2" text-anchor="middle" fill="#222" stroke="#222" stroke-width="0.12">400 nm</text><text x="461" y="234.4" font-size="5.2" text-anchor="middle" fill="#222" stroke="#222" stroke-width="0.12">468 nm</text><line x1="486.3" y1="160.7" x2="497.2" y2="160.7" stroke="#2e2c84" stroke-width="1.3"/><line x1="486.3" y1="166.8" x2="497.2" y2="166.8" stroke="#7456e0" stroke-width="1.3"/><text x="497.8" y="163.1" font-size="6.15" fill="#222" stroke="#222" stroke-width="0.12">No field</text><text x="497.8" y="169.2" font-size="6.15" fill="#222" stroke="#222" stroke-width="0.12">Field applied</text><rect x="511.2" y="41.8" width="3.2" height="42.2" fill="#3a20b0"/><polygon points="507.4,83.5 518.2,83.5 512.8,101.2" fill="#3a20b0"/><text transform="translate(520.6,35.4) rotate(90)" font-size="10.7" fill="#111" stroke="#111" stroke-width="0.32">CFN increases</text></svg>
</body></html>
